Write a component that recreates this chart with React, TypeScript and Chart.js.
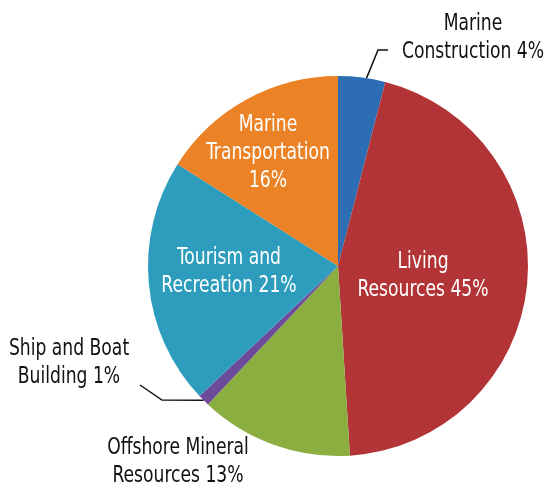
import React, { useEffect, useRef } from "react";
import { Chart, registerables } from "chart.js";

Chart.register(...registerables);

const categories = [
  "Marine Construction",
  "Living Resources",
  "Offshore Mineral Resources",
  "Ship and Boat Building",
  "Tourism and Recreation",
  "Marine Transportation",
];
const values = [4, 45, 13, 1, 21, 16];
const labelLines = [
  ["Marine", "Construction 4%"],
  ["Living", "Resources 45%"],
  ["Offshore Mineral", "Resources 13%"],
  ["Ship and Boat", "Building 1%"],
  ["Tourism and", "Recreation 21%"],
  ["Marine", "Transportation", "16%"],
];
const colors = ["#2d6db4", "#b33436", "#8aae3f", "#6c4b9b", "#2e9dbd", "#ec8226"];

// label layout (center of text block) and styles
const labelPos = [
  { x: 473, y: 38, color: "#111", leader: [[378, 50], [388, 50]], frac: 0.6 },
  { x: 423, y: 276, color: "#fff" },
  { x: 178, y: 462, color: "#111" },
  { x: 69, y: 363, color: "#111", leader: [[162, 400], [140, 385]], frac: 0.5 },
  { x: 229, y: 272, color: "#fff" },
  { x: 268, y: 153, color: "#fff" },
];

const FONT = '23px "DejaVu Sans Condensed", "DejaVu Sans", sans-serif';
const X_SCALE = 0.83;
const LINE_H = 28;

const labelPlugin = {
  id: "sliceLabels",
  afterDraw(chart: any) {
    const ctx = chart.ctx;
    const meta = chart.getDatasetMeta(0);
    ctx.save();
    meta.data.forEach((arc: any, i: number) => {
      const p = labelPos[i];
      if (p.leader) {
        const a = arc.startAngle + (arc.endAngle - arc.startAngle) * (p.frac ?? 0.5);
        const sx = arc.x + Math.cos(a) * arc.outerRadius;
        const sy = arc.y + Math.sin(a) * arc.outerRadius;
        ctx.beginPath();
        ctx.moveTo(sx, sy);
        p.leader.forEach(([lx, ly]: number[]) => ctx.lineTo(lx, ly));
        ctx.strokeStyle = "#111";
        ctx.lineWidth = 1.5;
        ctx.stroke();
      }
      const lines = labelLines[i];
      ctx.save();
      ctx.translate(p.x, p.y);
      ctx.scale(X_SCALE, 1);
      ctx.font = FONT;
      ctx.fillStyle = p.color;
      ctx.textAlign = "center";
      ctx.textBaseline = "middle";
      const y0 = -((lines.length - 1) * LINE_H) / 2;
      lines.forEach((t, k) => ctx.fillText(t, 0, y0 + k * LINE_H));
      ctx.restore();
    });
    ctx.restore();
  },
};

export default function App() {
  const ref = useRef<HTMLCanvasElement>(null);
  useEffect(() => {
    if (!ref.current) return;
    const chart = new Chart(ref.current, {
      type: "pie",
      data: {
        labels: categories,
        datasets: [
          {
            data: values,
            backgroundColor: colors,
            borderWidth: 0,
          },
        ],
      },
      options: {
        animation: false,
        responsive: false,
        maintainAspectRatio: false,
        layout: { padding: { left: 148, right: 17, top: 76, bottom: 33 } },
        plugins: {
          legend: { display: false },
          tooltip: { enabled: false },
        },
      },
      plugins: [labelPlugin],
    });
    return () => chart.destroy();
  }, []);
  return (
    <div style={{ position: "fixed", left: 0, top: 0, width: 545, height: 489, background: "#fff" }}>
      <canvas ref={ref} width={545} height={489} style={{ width: 545, height: 489 }} />
    </div>
  );
}
